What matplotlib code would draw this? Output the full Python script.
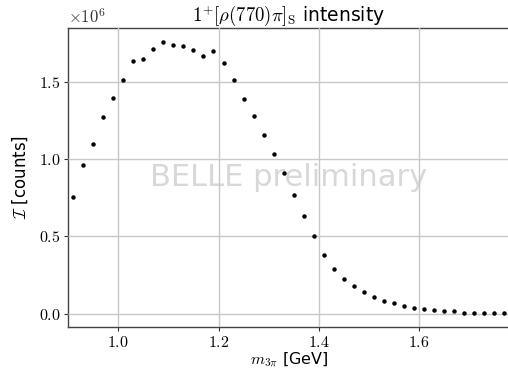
import numpy as np
import matplotlib
matplotlib.use("Agg")
import matplotlib.pyplot as plt
from matplotlib.ticker import FuncFormatter

plt.rcParams['mathtext.fontset'] = 'cm'
plt.rcParams['font.family'] = 'DejaVu Sans'

# bin centres of m_3pi [GeV]
mass = [0.91, 0.93, 0.95, 0.97, 0.99, 1.01, 1.03, 1.05, 1.07, 1.09,
        1.11, 1.13, 1.15, 1.17, 1.19, 1.21, 1.23, 1.25, 1.27, 1.29,
        1.31, 1.33, 1.35, 1.37, 1.39, 1.41, 1.43, 1.45, 1.47, 1.49,
        1.51, 1.53, 1.55, 1.57, 1.59, 1.61, 1.63, 1.65, 1.67, 1.69,
        1.71, 1.73, 1.75, 1.77]
# intensity in units of 1e6 counts
intensity_1e6 = [0.754, 0.959, 1.095, 1.274, 1.393, 1.509, 1.632, 1.650, 1.714, 1.760,
                 1.736, 1.734, 1.704, 1.665, 1.697, 1.624, 1.509, 1.389, 1.280, 1.157,
                 1.034, 0.907, 0.769, 0.635, 0.503, 0.380, 0.288, 0.225, 0.177, 0.138,
                 0.108, 0.082, 0.067, 0.050, 0.039, 0.032, 0.022, 0.016, 0.016, 0.007,
                 0.005, 0.002, 0.002, 0.002]
intensity = np.array(intensity_1e6) * 1e6

xticks = [1.0, 1.2, 1.4, 1.6]
yticks = [0.0, 0.5e6, 1.0e6, 1.5e6]

fig = plt.figure(figsize=(5.08, 3.73), dpi=100)
ax = fig.add_axes([68/508, 1 - 327/373, 441.5/508, 299/373])

ax.plot(mass, intensity, 'o', color='black', markersize=2.2, zorder=3)
ax.set_xlim(0.9, 1.78)
ax.margins(y=0.05)

ax.set_xticks(xticks)
ax.set_yticks(yticks)
ax.xaxis.set_major_formatter(FuncFormatter(lambda v, p: f"${v:.1f}$"))
ax.yaxis.set_major_formatter(FuncFormatter(lambda v, p: f"${v/1e6:.1f}$"))
ax.tick_params(labelsize=11.5, length=3, width=0.8, color='#333333', pad=2.5)
ax.text(0.0, 1.005, r"$\times10^{6}$", transform=ax.transAxes,
        ha='left', va='bottom', fontsize=12, color='#333333')

ax.grid(True, color='#c8c8c8', linewidth=1.0, zorder=2)
ax.set_axisbelow(False)
for s in ['left', 'bottom', 'top']:
    ax.spines[s].set_color('#444444')
    ax.spines[s].set_linewidth(1.0)

ax.text(0.5, 0.5, "BELLE preliminary", transform=ax.transAxes,
        ha='center', va='center', fontsize=22, color='#d8d8d8', zorder=1)

ax.set_title(r"$1^{+}[\rho(770)\pi]_{\mathrm{S}}$ intensity", fontsize=13.5, pad=3)
ax.set_xlabel(r"$m_{3\pi}$ [GeV]", fontsize=11.5, labelpad=1)
ax.set_ylabel(r"$\mathcal{I}$ [counts]", fontsize=12, labelpad=6)

fig.savefig("out.png", dpi=100)
